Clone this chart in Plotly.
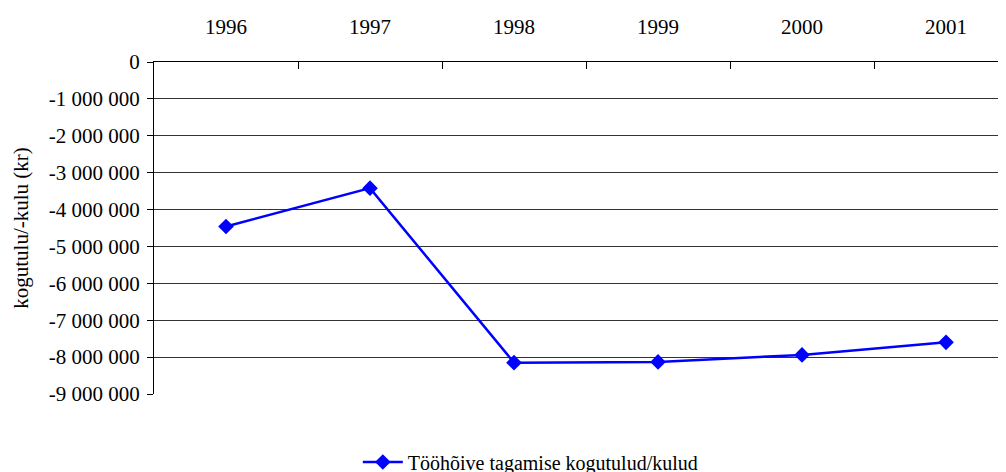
import plotly.graph_objects as go

years = ["1996", "1997", "1998", "1999", "2000", "2001"]
values = [-4460000, -3420000, -8150000, -8130000, -7940000, -7600000]
series_name = "Tööhõive tagamise kogutulud/kulud"
y_title = "kogutulu/-kulu (kr)"
y_tickvals = [0, -1000000, -2000000, -3000000, -4000000, -5000000,
              -6000000, -7000000, -8000000, -9000000]
y_ticktext = ["0", "-1 000 000", "-2 000 000", "-3 000 000", "-4 000 000",
              "-5 000 000", "-6 000 000", "-7 000 000", "-8 000 000", "-9 000 000"]

FONT = "Liberation Serif, DejaVu Serif, serif"

fig = go.Figure()
fig.add_trace(go.Scatter(
    x=years, y=values, name=series_name, mode="lines+markers",
    line=dict(color="#0000FF", width=2.5),
    marker=dict(symbol="diamond", size=12, color="#0000FF"),
    showlegend=True,
))

fig.update_layout(
    width=1006, height=472,
    margin=dict(l=146, r=0, t=54, b=86, autoexpand=False),
    paper_bgcolor="white", plot_bgcolor="white",
    font=dict(family=FONT, size=20, color="black"),
    showlegend=True,
    legend=dict(orientation="h", x=0.237, xanchor="left", y=-0.205, yanchor="middle",
                font=dict(family=FONT, size=20, color="black"), itemwidth=40),
    xaxis=dict(
        type="category", side="top", range=[-0.5, 5.472], automargin=False,
        tickson="boundaries", ticks="inside", ticklen=7, tickcolor="black",
        showline=True, linecolor="black", linewidth=1, mirror=False,
        showgrid=False, zeroline=False,
        tickfont=dict(family=FONT, size=21, color="black"),
        ticklabelstandoff=19,
    ),
    yaxis=dict(
        range=[-9000000, 0], tickvals=y_tickvals, ticktext=y_ticktext, automargin=False,
        ticks="outside", ticklen=6, tickcolor="black",
        showline=True, linecolor="black", linewidth=1,
        showgrid=True, gridcolor="#333333", gridwidth=1, zeroline=False,
        tickfont=dict(family=FONT, size=21, color="black"),
        ticklabelstandoff=3,
        title=dict(text=y_title, font=dict(family=FONT, size=21, color="black"), standoff=14),
    ),
)

fig.write_html("out.html")
